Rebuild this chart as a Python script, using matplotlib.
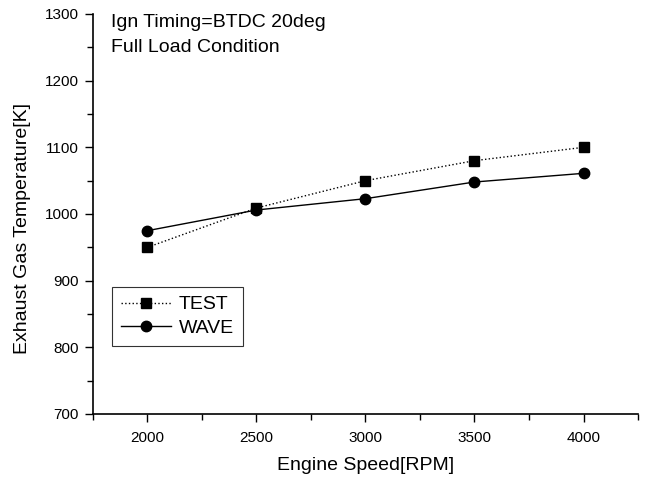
import matplotlib
matplotlib.use("Agg")
import matplotlib.pyplot as plt
from matplotlib.ticker import MultipleLocator

plt.rcParams['font.family'] = ['Liberation Sans', 'DejaVu Sans']

speed = [2000, 2500, 3000, 3500, 4000]
test = [950, 1009, 1050, 1080, 1100]
wave = [975, 1006, 1023, 1048, 1061]

fig = plt.figure(figsize=(6.45, 4.83), dpi=100)
ax = fig.add_axes([93/645, 1-414/483, (638-93)/645, (414-14)/483])

ax.plot(speed, test, linestyle=':', color='black', linewidth=1.0, marker='s',
        markersize=6.5, label='TEST')
ax.plot(speed, wave, linestyle='-', color='black', linewidth=1.0, marker='o',
        markersize=7.5, label='WAVE')

ax.set_xlim(1750, 4250)
ax.set_ylim(700, 1300)
ax.xaxis.set_major_locator(MultipleLocator(500))
ax.xaxis.set_minor_locator(MultipleLocator(250))
ax.yaxis.set_major_locator(MultipleLocator(100))
ax.yaxis.set_minor_locator(MultipleLocator(50))
ax.tick_params(which='major', direction='out', length=6, width=1, labelsize=11, pad=4)
ax.tick_params(which='minor', direction='out', length=4, width=1)
ax.tick_params(axis='x', which='major', pad=6)
for s in ['top', 'right']:
    ax.spines[s].set_visible(False)
ax.spines['left'].set_linewidth(1.2)
ax.spines['bottom'].set_linewidth(1.2)

ax.set_xlabel('Engine Speed[RPM]', fontsize=14, labelpad=9)
ax.set_ylabel('Exhaust Gas Temperature[K]', fontsize=14, va='center')
ax.yaxis.set_label_coords((22-93)/545, (414-229)/400)

ax.text(0.033, 1.0, 'Ign Timing=BTDC 20deg\nFull Load Condition', transform=ax.transAxes,
        fontsize=14, va='top', ha='left', linespacing=1.6)

leg = ax.legend(loc='upper left', bbox_to_anchor=(19/545, (414-287)/400), fontsize=14,
                frameon=True, fancybox=False, edgecolor='black', handlelength=2.6,
                borderpad=0.45, labelspacing=0.3, handletextpad=0.4, borderaxespad=0)
leg.get_frame().set_linewidth(0.8)

fig.savefig('out.png', dpi=100)
